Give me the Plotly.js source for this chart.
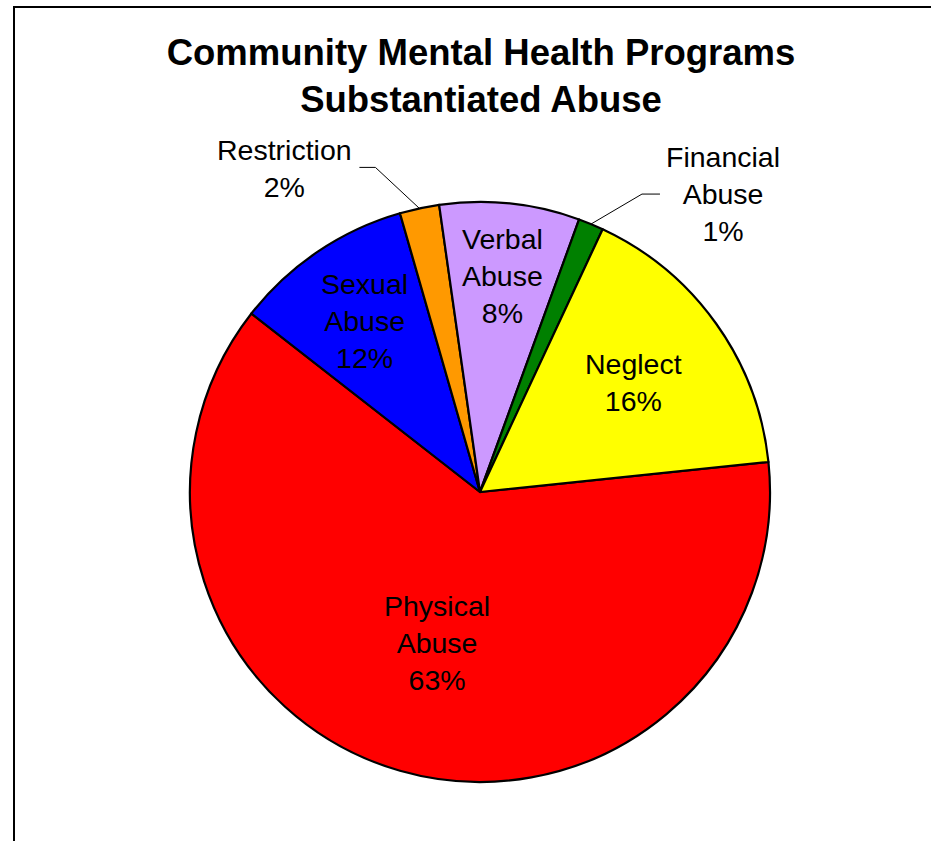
<!DOCTYPE html>
<html>
<head>
<meta charset="utf-8">
<script src="https://cdn.plot.ly/plotly-3.0.1.min.js"></script>
<style>
  html, body { margin: 0; padding: 0; background: #fff; }
  #chart { width: 931px; height: 841px; }
</style>
</head>
<body>
<div id="chart"></div>
<script>
// ---- Data ----
const labels = ['Physical Abuse', 'Sexual Abuse', 'Restriction', 'Verbal Abuse', 'Financial Abuse', 'Neglect'];
const labelLines = ['Physical<br>Abuse', 'Sexual<br>Abuse', 'Restriction', 'Verbal<br>Abuse', 'Financial<br>Abuse', 'Neglect'];
const values = [62.2, 10.0, 2.2, 7.8, 1.4, 16.4];
const pctText = ['63%', '12%', '2%', '8%', '1%', '16%'];
const colors = ['#FF0000', '#0000FF', '#FF9900', '#CC99FF', '#008000', '#FFFF00'];

// ---- Layout / style ----
const W = 931, H = 841;
const FONT = 'Liberation Sans, Arial, sans-serif';
const domX = [190 / W, 770 / W];
const domY = [1 - 782 / H, 1 - 202 / H];
const rotation = 84.06;
// inside labels: radial position as a fraction of radius (null = outside label)
const insideR = [0.54, 0.71, null, 0.75, null, 0.65];
// outside labels: [text dx, text dy, elbow dx, elbow dy, end dx] relative to slice edge point
const outside = {
  2: {tx: -135, ty: -40, ex: -44, ey: -41, endx: -60},
  4: {tx: 132, ty: -30, ex: 51, ey: -30, endx: 69}
};

const cx = (domX[0] + domX[1]) / 2 * W;
const cy = (1 - (domY[0] + domY[1]) / 2) * H;
const R = Math.min((domX[1] - domX[0]) * W, (domY[1] - domY[0]) * H) / 2;
const total = values.reduce((a, b) => a + b, 0);

const annotations = [];
const shapes = [];
let start = rotation;
values.forEach((v, i) => {
  const span = v / total * 360;
  const mid = (start + span / 2) * Math.PI / 180;
  start += span;
  const txt = labelLines[i] + '<br>' + pctText[i];
  if (insideR[i] !== null) {
    const r = insideR[i] * R;
    const px = cx + r * Math.sin(mid), py = cy - r * Math.cos(mid);
    annotations.push({
      x: px / W, y: 1 - py / H, xref: 'paper', yref: 'paper',
      text: txt, showarrow: false, xanchor: 'center', yanchor: 'middle',
      font: {family: FONT, size: 28.5, color: '#000'}
    });
  } else {
    const o = outside[i];
    const ex = cx + R * Math.sin(mid), ey = cy - R * Math.cos(mid);
    annotations.push({
      x: (ex + o.tx) / W, y: 1 - (ey + o.ty) / H, xref: 'paper', yref: 'paper',
      text: txt, showarrow: false, xanchor: 'center', yanchor: 'middle',
      font: {family: FONT, size: 28.5, color: '#000'}
    });
    const p = (x, y) => (x / W) + ' ' + (1 - y / H);
    shapes.push({
      type: 'path', xref: 'paper', yref: 'paper',
      path: 'M ' + p(ex, ey) + ' L ' + p(ex + o.ex, ey + o.ey) + ' L ' + p(ex + o.endx, ey + o.ey),
      line: {color: '#000', width: 1}
    });
  }
});

// chart border (top & left visible)
shapes.push({
  type: 'rect', xref: 'paper', yref: 'paper',
  x0: 14 / W, x1: 1.05, y0: -0.05, y1: 1 - 7 / H,
  line: {color: '#000', width: 2}, fillcolor: 'rgba(0,0,0,0)'
});

const trace = {
  type: 'pie',
  labels: labels,
  values: values,
  sort: false,
  direction: 'clockwise',
  rotation: rotation,
  textinfo: 'none',
  hoverinfo: 'label+percent',
  marker: {colors: colors, line: {color: '#000', width: 2.2}},
  domain: {x: domX, y: domY},
  showlegend: false
};

const layout = {
  width: W, height: H,
  margin: {l: 0, r: 0, t: 0, b: 0},
  paper_bgcolor: '#fff',
  title: {
    text: '<b>Community Mental Health Programs<br>Substantiated Abuse</b>',
    font: {family: FONT, size: 36.5, color: '#000'},
    x: 481 / W, xref: 'paper', xanchor: 'center',
    y: 1 - 65 / H, yref: 'paper', yanchor: 'top'
  },
  annotations: annotations,
  shapes: shapes
};

Plotly.newPlot('chart', [trace], layout, {displayModeBar: false, staticPlot: true});
</script>
</body>
</html>
